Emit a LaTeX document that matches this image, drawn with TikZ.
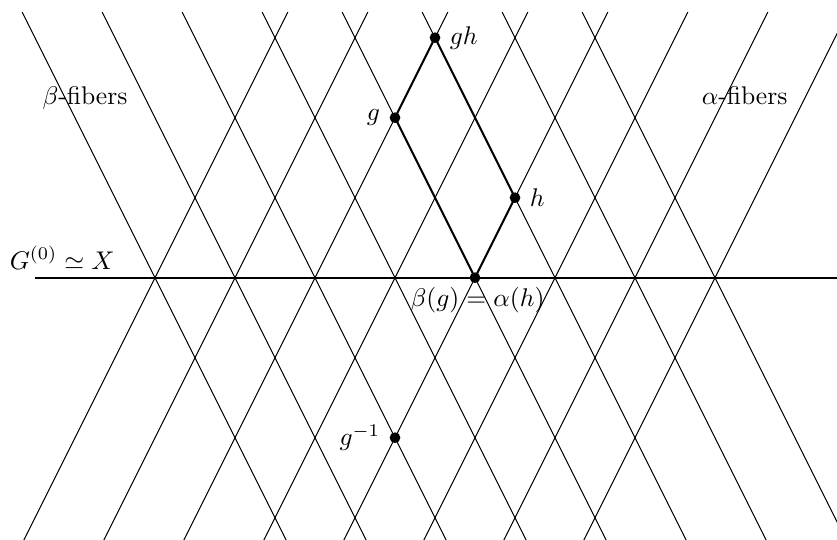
\documentclass[tikz,border=0pt]{standalone}
\usepackage{amsmath,amssymb}
\usetikzlibrary{positioning}

\begin{document}
\begin{tikzpicture}[x=1.1cm, y=1.1cm,
    fiber/.style={thin},
    unitline/.style={thick},
    arrline/.style={thick},
    pt/.style={circle, fill, inner sep=0pt, minimum size=4.2pt}]
    % frame of the picture
    \clip (-5.9375,-3.279) rectangle (4.525,3.471);

    % alpha- and beta-fibers through the units
    \foreach \k in {-4,...,3} {
        \draw[fiber] (\k,0) -- ++(-1.66,3.32);
        \draw[fiber] (\k,0) -- ++(1.66,-3.32);
        \draw[fiber] (\k,0) -- ++(1.66,3.32);
        \draw[fiber] (\k,0) -- ++(-1.66,-3.32);
    }

    % space of units
    \coordinate (U0) at (-5.5,0);
    \coordinate (U1) at (4.6,0);
    \draw[unitline] (U0) -- (U1);
    \node[anchor=base] (unitlab) at (-5.16,0.105) {$G^{(0)}\simeq X$};

    % arrows
    \node[pt, label={[label distance=-2pt, xshift=1pt]below:{$\beta(g)=\alpha(h)$}}] (b) at (0,0) {};
    \node[pt, label=right:$h$] (h) at (0.5,1) {};
    \node[pt, label=left:$g$] (g) at (-1,2) {};
    \node[pt, label=right:$gh$] (gh) at (-0.5,3) {};
    \node[pt, label=left:$g^{-1}$] (ginv) at (-1,-2) {};

    \draw[arrline] (b.center) -- (h.center) -- (gh.center) -- (g.center) -- (b.center);

    % fiber labels
    \node[anchor=base] (betalab) at (-4.875,2.16) {$\beta$-fibers};
    \node[anchor=base] (alphalab) at (3.37,2.16) {$\alpha$-fibers};
\end{tikzpicture}
\end{document}
